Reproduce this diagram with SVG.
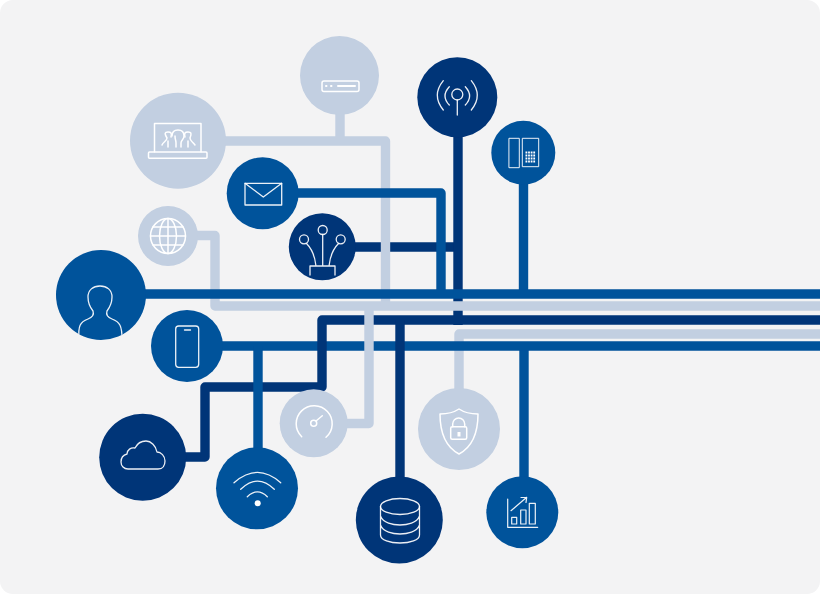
<svg xmlns="http://www.w3.org/2000/svg" width="820" height="594" viewBox="0 0 820 594">
<defs>
<style>
.c{fill:none;stroke-width:9.400;stroke-linejoin:round;stroke-linecap:butt}
.b{stroke:#00529b}.d{stroke:#003478}.l{stroke:#c2cfe1}
.cb{fill:#00529b}.cd{fill:#003478}.cl{fill:#c2cfe1}
.i{fill:none;stroke:#fff;stroke-width:1.300;stroke-opacity:.92;stroke-linecap:round;stroke-linejoin:round}
.il{fill:none;stroke:#fff;stroke-width:1.500;stroke-linecap:round;stroke-linejoin:round}
.f{fill:#fff}
</style>
<filter id="soft" x="0" y="0" width="1" height="1" filterUnits="objectBoundingBox"><feGaussianBlur stdDeviation="0.450"/></filter>
<clipPath id="userclip"><circle cx="101" cy="295" r="45"/></clipPath>
</defs>
<rect width="820" height="594" fill="#fff"/>
<rect id="panel" width="820" height="594" rx="13" fill="#f3f3f4"/>
<g id="diagram" filter="url(#soft)">
<rect width="820" height="594" fill="none"/>
<g id="connectors">
<path class="c d" d="M350,247H459"/>
<path class="c d" d="M458,130V325"/>
<path class="c b" d="M523.500,180V294"/>
<path class="c l" d="M459,395V334H820"/>
<path class="c b" d="M524,346V482"/>
<path class="c b" d="M220,346H820"/>
<path class="c d" d="M820,320H322V387H205V457H180"/>
<path class="c d" d="M400,320V482"/>
<path class="c b" d="M258,346V452"/>
<path class="c l" d="M345,423.500H369V306"/>
<path class="c l" d="M197,235.500H215V306H820"/>
<path class="c l" d="M340,110V141"/>
<path class="c l" d="M220,141H385.500V306"/>
<path class="c b" d="M295,193H441V294"/>
<path class="c b" d="M140,294H820"/>
</g>
<g id="node-router"><circle class="cl" cx="339.500" cy="75.500" r="39.500"/>
<rect class="il" x="322" y="81" width="37" height="10.500" rx="2"/><path class="il" d="M326,86h.5M331,86h.5M338,86H355" style="stroke-width:2"/></g>
<g id="node-laptop"><circle class="cl" cx="178" cy="140.700" r="48"/>
<path class="il" d="M154.500,151.700V123.500H201V151.700"/><rect class="il" x="148.500" y="152" width="58.500" height="6.300" rx="1"/>
<path class="il" d="M162,145C163,142 167,141 167,138C164,133 165,132 168,132C171,132 172,133 171,137M168,141V147"/>
<path class="il" d="M172,136C172,132 174,130 178,130C182,130 184,132 184,136C184,140 181,140 181,143M175,136C175,140 176,140 176,143M176,143V147M181,143V147"/>
<path class="il" d="M185,137C184,133 185,132 188,132C191,132 192,133 190,138C190,141 193,142 195,145M188,141V147"/></g>
<g id="node-mail"><circle class="cb" cx="262.700" cy="193.300" r="36"/>
<rect class="i" x="245" y="183.300" width="36.700" height="21.700"/><path class="i" d="M245,183.300L263.300,197L281.700,183.300"/></g>
<g id="node-globe"><circle class="cl" cx="168" cy="236" r="30"/>
<g class="il"><circle cx="168" cy="236" r="17.500"/><ellipse cx="168" cy="236" rx="8.500" ry="17.500"/><path d="M168,218.500V253.500M150.500,236H185.500M153,227H183M153,245H183"/></g></g>
<g id="node-fiber"><circle class="cd" cx="322.300" cy="246.700" r="33.500"/>
<g class="i"><circle cx="322.700" cy="230" r="4.500"/><circle cx="304" cy="239.300" r="4.500"/><circle cx="340.700" cy="239.300" r="4.500"/>
<path d="M322.700,234.500V266M306.500,243.500C312,249 315,257 316,266M338.500,243.500C333,249 330,257 329,266M310,275V266H335V275"/></g></g>
<g id="node-user"><circle class="cb" cx="101" cy="295" r="45"/>
<path class="i" clip-path="url(#userclip)" d="M79,339C78,326 80,322 88,319C93,317 94,314 93,311C89,306 88,300 88,297C88,290 93,286 100,286C107,286 112,290 112,297C112,303 110,307 107,311C106,314 107,317 112,319C120,322 122,326 122,339"/></g>
<g id="node-antenna"><circle class="cd" cx="457.300" cy="97.300" r="40"/>
<g class="i"><circle cx="457.300" cy="94.500" r="5.500"/><path d="M457.300,100V115M449.300,86.700Q440.700,96 449.300,105M443.300,80.700Q431.300,95.500 443.300,110M465.300,86.700Q473.900,96 465.300,105M471.300,80.700Q483.300,95.500 471.300,110"/></g></g>
<g id="node-phone"><circle class="cb" cx="523.300" cy="152.700" r="32"/>
<g class="i" style="stroke-width:1"><rect x="509.300" y="138.300" width="10" height="29.400"/><rect x="522.700" y="138.300" width="16" height="28.400"/></g>
<path d="M525.500,152.500H535.500M525.500,155.500H535.500M525.500,158.500H535.500M525.500,161.500H535.500" fill="none" stroke="#fff" stroke-width="1.800" stroke-dasharray="1.800 .8"/></g>
<g id="node-mobile"><circle class="cb" cx="187" cy="346" r="36"/>
<rect class="i" x="175.700" y="326" width="23" height="41.300" rx="3"/><path class="i" d="M184.500,330H190.500"/></g>
<g id="node-cloud"><circle class="cd" cx="142.700" cy="457.300" r="43.500"/>
<path class="i" d="M128,469H158C163,469 165,465 165,461C165,456 161,452 157,452C156,446 151,441 146,441C141,441 137,444 135,448C131,447 127,450 127,454C123,455 121,458 121,462C121,466 124,469 128,469Z"/></g>
<g id="node-wifi"><circle class="cb" cx="257" cy="488.300" r="41"/>
<circle class="f" cx="257.700" cy="503.300" r="3"/>
<path class="i" d="M234,482.700Q257.500,462 280.700,482.700M240.700,489.300Q257.500,473 274.300,489.300M247.300,496.700Q257.500,487 267.300,496.700"/></g>
<g id="node-gauge"><circle class="cl" cx="313.700" cy="423.300" r="34"/>
<path class="il" d="M301.700,436.700A18,18 0 1 1 326,437.300M316,421L322.300,415.700"/><circle class="il" cx="313.700" cy="423.300" r="3"/></g>
<g id="node-database"><circle class="cd" cx="399.300" cy="520" r="43.500"/>
<g class="i"><ellipse cx="400" cy="506.500" rx="19.500" ry="8"/><path d="M380.500,506.500V535C380.500,540 390,543 400,543C410,543 419.500,540 419.500,535V506.500M380.500,516C383,523 393,525 400,525C407,525 417,523 419.500,516M380.500,525C383,532 393,534 400,534C407,534 417,532 419.500,525"/></g></g>
<g id="node-shield"><circle class="cl" cx="459" cy="429" r="41"/>
<path class="il" d="M459,409C453,413 446,414 440,414C440,430 444,446 459,454C474,446 478,430 478,414C472,414 465,413 459,409Z"/>
<rect class="il" x="450.700" y="426.700" width="16" height="12.600" rx="1.500"/><path class="il" d="M452.700,426.700V424A6,6 0 0 1 464.700,424V426.700"/><rect x="457.500" y="432" width="3" height="4.500" fill="#fff"/></g>
<g id="node-chart"><circle class="cb" cx="522.300" cy="512.300" r="36"/>
<g class="i" style="stroke-width:1.200"><path d="M507.700,499V527.300H537.700"/><rect x="511.700" y="517.300" width="5" height="6.700"/><rect x="520.700" y="510" width="5.300" height="14"/><rect x="529.300" y="503.300" width="6" height="20.700"/><path d="M511,510.700L526.700,497.300M521,497.500L526.700,497.300L526,502.500"/></g></g>
</g>
</svg>
